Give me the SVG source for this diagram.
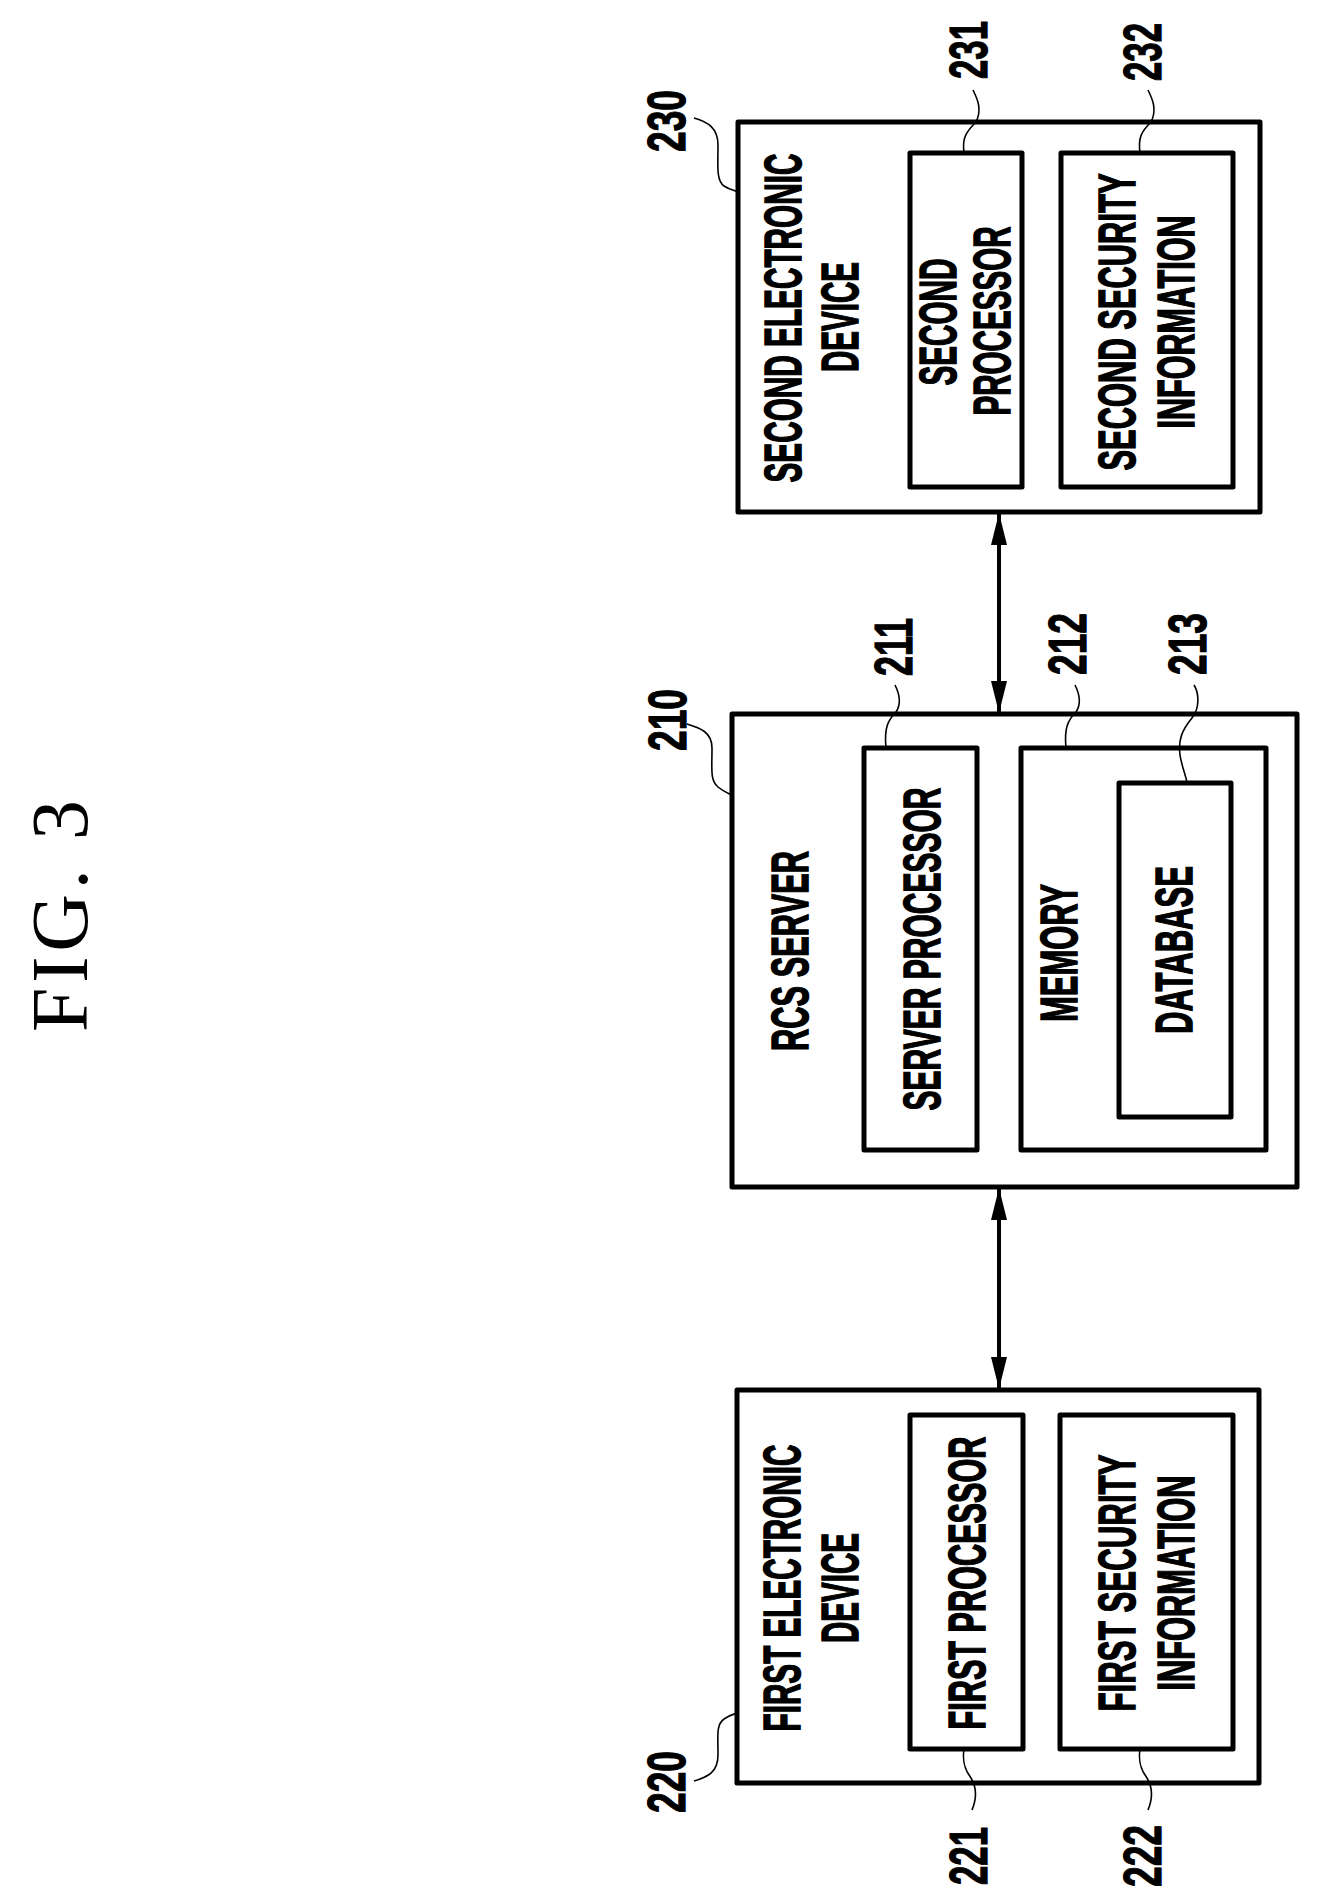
<svg xmlns="http://www.w3.org/2000/svg" width="1319" height="1904" viewBox="0 0 1319 1904">
<style>
.b{fill:none;stroke:#000;stroke-width:5;stroke-linejoin:round}
.t{font-family:"Liberation Sans",Arial,sans-serif;font-weight:bold;font-size:52px;text-anchor:middle;dominant-baseline:central;stroke:#000;stroke-width:1.5}
.n{font-family:"Liberation Sans",Arial,sans-serif;font-weight:bold;font-size:54px;text-anchor:middle;dominant-baseline:central;stroke:#000;stroke-width:1.2}
.l{fill:none;stroke:#000;stroke-width:1.6}
.c{stroke:#000;stroke-width:4;fill:none}
</style>
<defs>
<marker id="a" viewBox="0 0 32 16" refX="32" refY="8" markerWidth="32" markerHeight="16" markerUnits="userSpaceOnUse" orient="auto-start-reverse"><path d="M0,0 L32,8 L0,16 Z" fill="#000"/></marker>
</defs>
<rect width="1319" height="1904" fill="#fff"/>
<text transform="translate(60,916) rotate(-90)" style="font-family:'Liberation Serif',serif;font-size:80px;text-anchor:middle;dominant-baseline:central" textLength="232" lengthAdjust="spacing">FIG. 3</text>

<g id="n230">
<rect class="b" x="738" y="122" width="522" height="390"/>
<text class="t" transform="translate(783,318) rotate(-90)" textLength="329" lengthAdjust="spacingAndGlyphs">SECOND ELECTRONIC</text>
<text class="t" transform="translate(840,317) rotate(-90)" textLength="110" lengthAdjust="spacingAndGlyphs">DEVICE</text>
<text class="n" transform="translate(666,121) rotate(-90)" textLength="62" lengthAdjust="spacingAndGlyphs">230</text>
<path class="l" d="M694,118 C708,122 718,128 718,145 C718,165 716,180 724,186 C730,190 734,190 738,192"/>
</g>
<g id="n231">
<rect class="b" x="910" y="153" width="112" height="334"/>
<text class="t" transform="translate(938,322) rotate(-90)" textLength="127" lengthAdjust="spacingAndGlyphs">SECOND</text>
<text class="t" transform="translate(992,321) rotate(-90)" textLength="189" lengthAdjust="spacingAndGlyphs">PROCESSOR</text>
<text class="n" transform="translate(968,50) rotate(-90)" textLength="58" lengthAdjust="spacingAndGlyphs">231</text>
<path class="l" d="M973,90 C978,100 982,110 976,122 C966,132 962,138 964,153"/>
</g>
<g id="n232">
<rect class="b" x="1061" y="153" width="172" height="334"/>
<text class="t" transform="translate(1117,322) rotate(-90)" textLength="297" lengthAdjust="spacingAndGlyphs">SECOND SECURITY</text>
<text class="t" transform="translate(1176,322) rotate(-90)" textLength="213" lengthAdjust="spacingAndGlyphs">INFORMATION</text>
<text class="n" transform="translate(1142,52) rotate(-90)" textLength="58" lengthAdjust="spacingAndGlyphs">232</text>
<path class="l" d="M1148,90 C1153,100 1157,110 1151,122 C1141,132 1138,138 1140,153"/>
</g>

<g id="n210">
<rect class="b" x="732" y="714" width="565" height="473"/>
<text class="t" transform="translate(790,951) rotate(-90)" textLength="200" lengthAdjust="spacingAndGlyphs">RCS SERVER</text>
<text class="n" transform="translate(667,720) rotate(-90)" textLength="62" lengthAdjust="spacingAndGlyphs">210</text>
<path class="l" d="M687,724 C700,728 712,732 712,748 C712,770 710,780 718,787 C724,792 728,793 732,795"/>
</g>
<g id="n211">
<rect class="b" x="864" y="748" width="113" height="402"/>
<text class="t" transform="translate(922,949) rotate(-90)" textLength="323" lengthAdjust="spacingAndGlyphs">SERVER PROCESSOR</text>
<text class="n" transform="translate(893,647) rotate(-90)" textLength="58" lengthAdjust="spacingAndGlyphs">211</text>
<path class="l" d="M895,685 C899,693 902,703 896,712 C888,720 884,728 886,748"/>
</g>
<g id="n212">
<rect class="b" x="1021" y="748" width="245" height="402"/>
<text class="t" transform="translate(1059,953) rotate(-90)" textLength="138" lengthAdjust="spacingAndGlyphs">MEMORY</text>
<text class="n" transform="translate(1067,644) rotate(-90)" textLength="62" lengthAdjust="spacingAndGlyphs">212</text>
<path class="l" d="M1075,685 C1079,693 1082,703 1076,712 C1068,720 1064,728 1066,748"/>
</g>
<g id="n213">
<rect class="b" x="1119" y="783" width="112" height="334"/>
<text class="t" transform="translate(1174,950) rotate(-90)" textLength="168" lengthAdjust="spacingAndGlyphs">DATABASE</text>
<text class="n" transform="translate(1187,644) rotate(-90)" textLength="62" lengthAdjust="spacingAndGlyphs">213</text>
<path class="l" d="M1194,685 C1199,693 1200,708 1192,718 C1182,730 1178,740 1180,755 C1182,768 1186,775 1187,783"/>
</g>

<g id="n220">
<rect class="b" x="737" y="1390" width="522" height="393"/>
<text class="t" transform="translate(782,1588) rotate(-90)" textLength="287" lengthAdjust="spacingAndGlyphs">FIRST ELECTRONIC</text>
<text class="t" transform="translate(840,1588) rotate(-90)" textLength="110" lengthAdjust="spacingAndGlyphs">DEVICE</text>
<text class="n" transform="translate(666,1782) rotate(-90)" textLength="62" lengthAdjust="spacingAndGlyphs">220</text>
<path class="l" d="M694,1781 C708,1777 718,1772 718,1755 C718,1735 716,1725 724,1719 C730,1715 734,1714 737,1713"/>
</g>
<g id="n221">
<rect class="b" x="910" y="1415" width="113" height="334"/>
<text class="t" transform="translate(967,1583) rotate(-90)" textLength="293" lengthAdjust="spacingAndGlyphs">FIRST PROCESSOR</text>
<text class="n" transform="translate(968,1856) rotate(-90)" textLength="58" lengthAdjust="spacingAndGlyphs">221</text>
<path class="l" d="M964,1749 C962,1762 965,1770 971,1778 C977,1788 977,1798 972,1810"/>
</g>
<g id="n222">
<rect class="b" x="1060" y="1415" width="173" height="334"/>
<text class="t" transform="translate(1117,1583) rotate(-90)" textLength="257" lengthAdjust="spacingAndGlyphs">FIRST SECURITY</text>
<text class="t" transform="translate(1176,1583) rotate(-90)" textLength="215" lengthAdjust="spacingAndGlyphs">INFORMATION</text>
<text class="n" transform="translate(1142,1856) rotate(-90)" textLength="62" lengthAdjust="spacingAndGlyphs">222</text>
<path class="l" d="M1140,1749 C1138,1762 1141,1770 1147,1778 C1153,1788 1153,1798 1148,1810"/>
</g>

<g id="connectors">
<line class="c" x1="999" y1="513" x2="999" y2="713" marker-start="url(#a)" marker-end="url(#a)"/>
<line class="c" x1="999" y1="1188" x2="999" y2="1389" marker-start="url(#a)" marker-end="url(#a)"/>
</g>
</svg>
